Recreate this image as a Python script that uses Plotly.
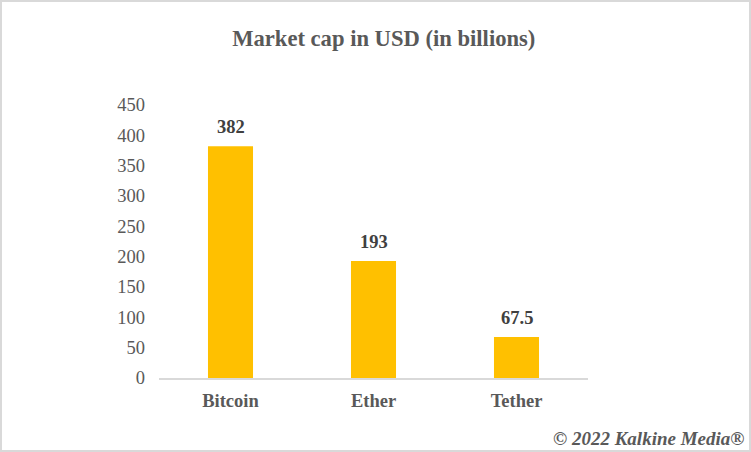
import plotly.graph_objects as go

categories = ["Bitcoin", "Ether", "Tether"]
values = [382, 193, 67.5]
value_labels = ["382", "193", "67.5"]
tick_values = [0, 50, 100, 150, 200, 250, 300, 350, 400, 450]
title = "Market cap in USD (in billions)"
credit = "© 2022 Kalkine Media®"

FONT = "Liberation Serif"
W, H = 751, 452
L, R, T, B = 159, 163, 105, 74
PW, PH = W - L - R, H - T - B

fig = go.Figure(go.Bar(
    x=categories, y=values,
    marker=dict(color="#FFC000", line=dict(width=0)),
    width=0.315,
))
annotations = [
    dict(text=f"<b>{t}</b>", x=c, y=v, xref="x", yref="y", yanchor="bottom", yshift=7,
         showarrow=False, font=dict(family=FONT, size=18.5, color="#404040"))
    for c, v, t in zip(categories, values, value_labels)
]
annotations.append(dict(text=f"<b><i>{credit}</i></b>", xref="paper", yref="paper",
                        x=1 + (R - 5) / PW, y=-(B - 14) / PH, xanchor="right", yanchor="middle",
                        showarrow=False, font=dict(family=FONT, size=19, color="#595959")))
fig.update_layout(
    width=W, height=H, autosize=False, showlegend=False,
    paper_bgcolor="white", plot_bgcolor="white",
    margin=dict(l=L, r=R, t=T, b=B),
    title=dict(text=f"<b>{title}</b>", x=0.511, xanchor="center", y=0.916, yanchor="middle",
               font=dict(family=FONT, size=22.6, color="#595959")),
    xaxis=dict(showgrid=False, showline=True, linecolor="#D9D9D9", linewidth=2,
               ticks="", ticklabelstandoff=5,
               tickfont=dict(family=FONT, size=18.5, color="#595959", weight="bold")),
    yaxis=dict(range=[0, 450], tickvals=tick_values, showgrid=False, showline=False,
               ticks="", zeroline=False, ticklabelstandoff=13,
               tickfont=dict(family=FONT, size=18.5, color="#595959")),
    shapes=[dict(type="rect", xref="paper", yref="paper",
                 x0=-(L - 1) / PW, x1=1 + (R - 1) / PW,
                 y0=-(B - 1) / PH, y1=1 + (T - 1) / PH,
                 line=dict(color="#D9D9D9", width=2), fillcolor="rgba(0,0,0,0)")],
    annotations=annotations,
)
fig.write_html("out.html", config=dict(displayModeBar=False),
               post_script="document.body.style.margin='0';")
